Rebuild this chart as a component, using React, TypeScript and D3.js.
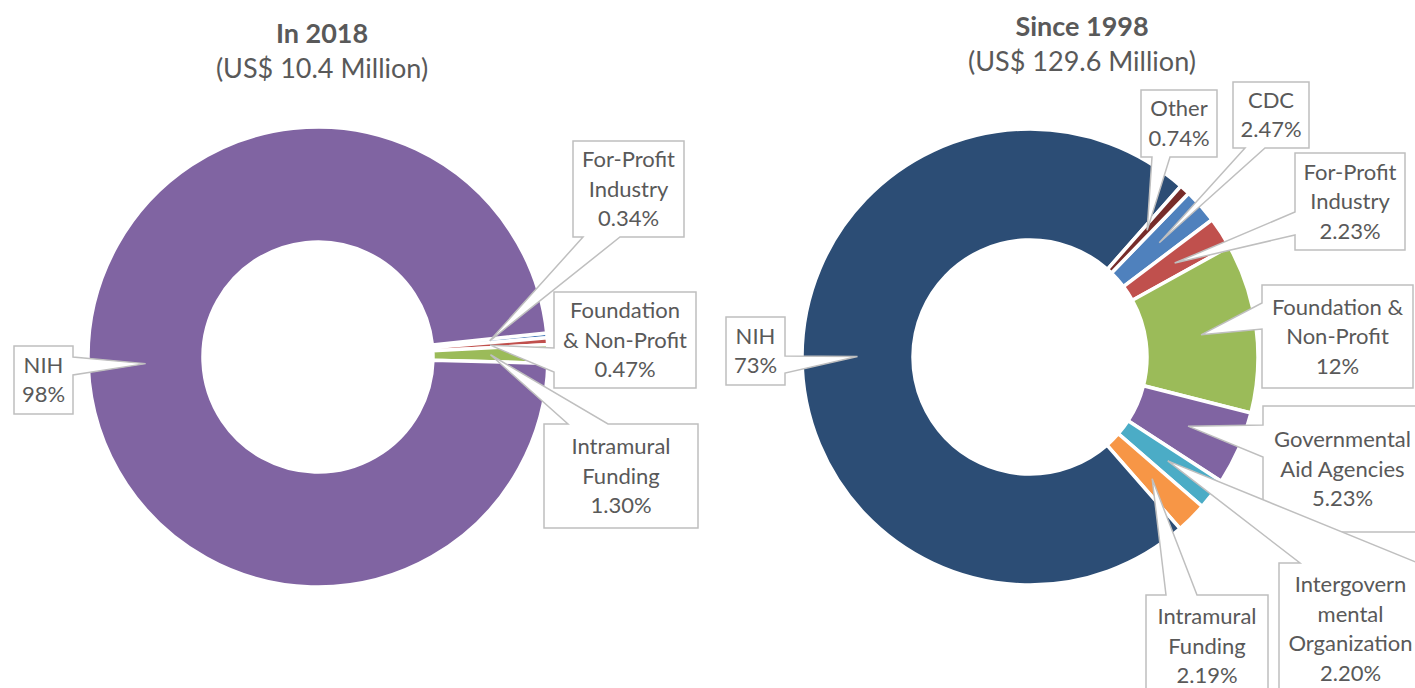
import React from 'react';
import * as d3 from 'd3';

// ---------- Data ----------
const leftCategories = ['For-Profit Industry', 'Foundation & Non-Profit', 'Intramural Funding', 'NIH'];
const leftValues = [0.34, 0.47, 1.30, 97.89];
const leftLabels = [['For-Profit', 'Industry', '0.34%'], ['Foundation', '& Non-Profit', '0.47%'], ['Intramural', 'Funding', '1.30%'], ['NIH', '98%']];
const leftColors = ['#4F81BD', '#C0504D', '#9BBB59', '#8064A2'];

const rightCategories = ['CDC', 'For-Profit Industry', 'Foundation & Non-Profit', 'Governmental Aid Agencies', 'Intergovernmental Organization', 'Intramural Funding', 'NIH', 'Other'];
const rightValues = [2.47, 2.23, 12, 5.23, 2.20, 2.19, 72.94, 0.74];
const rightLabels = [['CDC', '2.47%'], ['For-Profit', 'Industry', '2.23%'], ['Foundation &', 'Non-Profit', '12%'], ['Governmental', 'Aid Agencies', '5.23%'], ['Intergovern', 'mental', 'Organization', '2.20%'], ['Intramural', 'Funding', '2.19%'], ['NIH', '73%'], ['Other', '0.74%']];
const rightColors = ['#4F81BD', '#C0504D', '#9BBB59', '#8064A2', '#4BACC6', '#F79646', '#2C4D75', '#772C2A'];

const titles = [['In 2018', '(US$ 10.4 Million)'], ['Since 1998', '(US$ 129.6 Million)']];

// ---------- Layout ----------
type Side = 'top' | 'bottom' | 'left' | 'right';
interface Callout { box: [number, number, number, number]; side: Side; base: [number, number]; }

const leftCallouts: Callout[] = [
  { box: [573, 141, 684, 237], side: 'bottom', base: [583, 620] },
  { box: [554, 292, 696, 388], side: 'left', base: [348, 372] },
  { box: [544, 424, 698, 528], side: 'top', base: [568, 608] },
  { box: [14, 346, 73, 414], side: 'right', base: [357, 375] },
];
const rightCallouts: Callout[] = [
  { box: [1233, 82, 1309, 148], side: 'bottom', base: [1245, 1265] },
  { box: [1295, 153, 1405, 250], side: 'left', base: [212, 235] },
  { box: [1262, 285, 1413, 388], side: 'left', base: [303, 329] },
  { box: [1263, 406, 1422, 532], side: 'left', base: [425, 457] },
  { box: [1279, 563, 1422, 695], side: 'top', base: [1300, 1418] },
  { box: [1146, 595, 1268, 697], side: 'top', base: [1166, 1197] },
  { box: [726, 317, 785, 385], side: 'right', base: [356, 373] },
  { box: [1141, 90, 1217, 157], side: 'bottom', base: [1152, 1170] },
];

const FONT = 'Lato, Calibri, "Open Sans", sans-serif';
const TEXT = '#595959';
const LABEL_FS = 22;
const LINE_H = 29.5;

function calloutPath(c: Callout, tip: [number, number]) {
  const [x0, y0, x1, y1] = c.box;
  const [a, b] = c.base;
  const [tx, ty] = tip;
  switch (c.side) {
    case 'top':
      return `M${x0},${y0}H${a}L${tx},${ty}L${b},${y0}H${x1}V${y1}H${x0}Z`;
    case 'bottom':
      return `M${x0},${y0}H${x1}V${y1}H${b}L${tx},${ty}L${a},${y1}H${x0}Z`;
    case 'left':
      return `M${x0},${y0}H${x1}V${y1}H${x0}V${b}L${tx},${ty}L${x0},${a}Z`;
    default:
      return `M${x0},${y0}H${x1}V${a}L${tx},${ty}L${x1},${b}V${y1}H${x0}Z`;
  }
}

interface DonutProps {
  cx: number; cy: number; outer: number; inner: number; startDeg: number;
  categories: string[]; values: number[]; colors: string[]; labels: string[][]; callouts: Callout[];
}

function Donut(p: DonutProps) {
  const start = (p.startDeg * Math.PI) / 180;
  const pie = d3.pie<number>().sort(null).value((d) => d).startAngle(start).endAngle(start + 2 * Math.PI);
  const arcs = pie(p.values);
  const arc = d3.arc<d3.PieArcDatum<number>>().innerRadius(p.inner).outerRadius(p.outer);
  return (
    <g>
      <g transform={`translate(${p.cx},${p.cy})`}>
        {arcs.map((a, i) => (
          <path key={p.categories[i]} d={arc(a) || ''} fill={p.colors[i]} stroke="#fff" strokeWidth={3.5} strokeLinejoin="miter" />
        ))}
      </g>
      {arcs.map((a, i) => {
        const c = arc.centroid(a);
        const tip: [number, number] = [p.cx + c[0], p.cy + c[1]];
        const co = p.callouts[i];
        const lines = p.labels[i];
        const bx = (co.box[0] + co.box[2]) / 2;
        const by = (co.box[1] + co.box[3]) / 2;
        return (
          <g key={'c' + i}>
            <path d={calloutPath(co, tip)} fill="#fff" stroke="#BFBFBF" strokeWidth={1.5} strokeLinejoin="miter" />
            {lines.map((t, j) => (
              <text key={j} x={bx} y={by + (j - (lines.length - 1) / 2) * LINE_H + LABEL_FS * 0.35}
                textAnchor="middle" fontFamily={FONT} fontSize={LABEL_FS} fill={TEXT}>{t}</text>
            ))}
          </g>
        );
      })}
    </g>
  );
}

export default function App() {
  return (
    <svg width={1415} height={688} style={{ position: 'absolute', left: 0, top: 0, background: '#fff' }}>
      <rect x={0} y={0} width={1415} height={688} fill="#fff" />
      <text x={322} y={43} textAnchor="middle" fontFamily={FONT} fontWeight="bold" fontSize={27} fill={TEXT}>{titles[0][0]}</text>
      <text x={322} y={78} textAnchor="middle" fontFamily={FONT} fontSize={27} fill={TEXT}>{titles[0][1]}</text>
      <text x={1082} y={36} textAnchor="middle" fontFamily={FONT} fontWeight="bold" fontSize={27} fill={TEXT}>{titles[1][0]}</text>
      <text x={1082} y={71} textAnchor="middle" fontFamily={FONT} fontSize={27} fill={TEXT}>{titles[1][1]}</text>
      <Donut cx={318} cy={357} outer={230} inner={115} startDeg={84}
        categories={leftCategories} values={leftValues} colors={leftColors} labels={leftLabels} callouts={leftCallouts} />
      <Donut cx={1030} cy={357} outer={228} inner={117} startDeg={44.1}
        categories={rightCategories} values={rightValues} colors={rightColors} labels={rightLabels} callouts={rightCallouts} />
    </svg>
  );
}
